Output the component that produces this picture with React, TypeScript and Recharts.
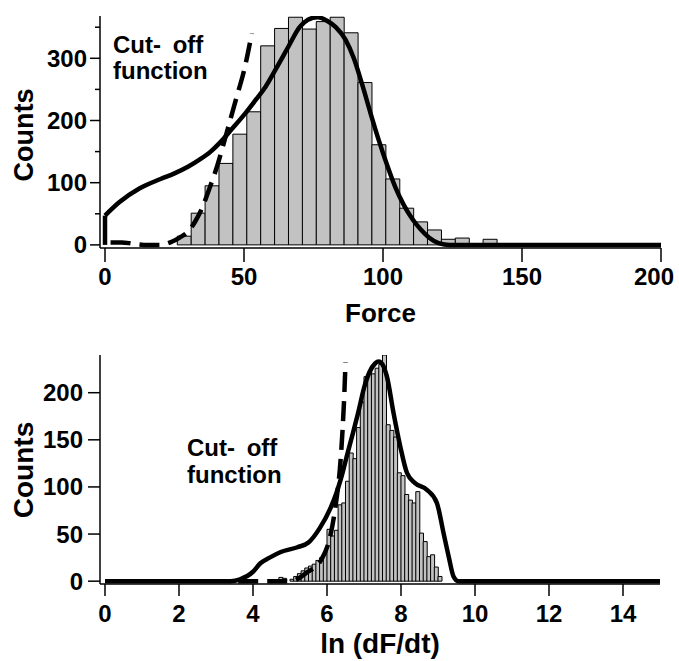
import { ComposedChart, Bar, Line, XAxis, YAxis, Label } from 'recharts'

const FONT = '"Liberation Sans", Arial, Helvetica, sans-serif'

// top panel: force histogram (bin centres, counts)
const forceBinCenters = [28.5, 33.5, 38.5, 43.5, 48.5, 53.5, 58.5, 63.5, 68.5, 73.5, 78.5, 83.5, 88.5, 93.5, 98.5, 103.5, 108.5, 113.5, 118.5, 123.5, 128.5, 133.5, 138.5]
const forceCounts = [14, 51, 95, 131, 178, 214, 320, 348, 366, 347, 359, 366, 341, 261, 161, 106, 59, 37, 24, 9, 11, 0, 9]

// fitted distribution (solid) and cut-off function (dashed)
const forceFitX = [0, 5, 12.5, 20, 25, 30, 34, 38, 41.7, 45, 50, 54, 57.7, 62, 66, 70, 73, 76.5, 80, 83, 86.5, 89.5, 92.5, 95.5, 98.5, 101.5, 104.5, 107.5, 110.5, 113.5, 116.5, 120, 124, 200]
const forceFitY = [47, 68, 91, 106, 115, 126, 137, 150, 166, 183, 209, 232, 254, 287, 319, 350, 362, 366, 360, 350, 330, 300, 258, 212, 168, 128, 92, 64, 42, 25, 12, 3, 0, 0]
const forceEdgeX = [0, 0]
const forceEdgeY = [0, 47]
const forceCutoffX = [2, 6, 10, 14, 20, 24, 27, 30, 32.5, 35, 37.5, 40, 42.5, 45, 47.5, 50, 52.8]
const forceCutoffY = [4, 4, 2, 0, 0, 5, 12, 22, 38, 60, 90, 122, 160, 200, 240, 280, 340]

const forceXTicks = [0, 50, 100, 150, 200]
const forceYTicks = [0, 50, 100, 150, 200, 250, 300, 350]

// bottom panel: ln(dF/dt) histogram
const rateBinCenters = [4.75, 4.85, 4.95, 5.05, 5.15, 5.25, 5.35, 5.45, 5.55, 5.65, 5.75, 5.85, 5.95, 6.05, 6.15, 6.25, 6.35, 6.45, 6.55, 6.65, 6.75, 6.85, 6.95, 7.05, 7.15, 7.25, 7.35, 7.45, 7.55, 7.65, 7.75, 7.85, 7.95, 8.05, 8.15, 8.25, 8.35, 8.45, 8.55, 8.65, 8.75, 8.85, 8.95, 9.05]
const rateCounts = [4, 3, 0, 2, 5, 8, 11, 14, 16, 18, 22, 25, 29, 55, 48, 54, 81, 83, 106, 136, 130, 163, 190, 217, 222, 220, 226, 230, 240, 166, 160, 153, 115, 112, 92, 86, 83, 95, 51, 42, 26, 28, 15, 5]

const rateFitX = [0, 3.4, 3.65, 4.0, 4.2, 4.45, 4.75, 5.2, 5.5, 5.8, 6.1, 6.25, 6.4, 6.55, 6.7, 6.85, 7.0, 7.15, 7.3, 7.4, 7.5, 7.62, 7.8, 7.98, 8.16, 8.38, 8.7, 8.97, 9.15, 9.29, 9.42, 9.55, 15]
const rateFitY = [0, 0, 2, 10, 19, 25, 31, 36, 41, 56, 78, 93, 112, 135, 157, 180, 205, 222, 231, 233, 230, 217, 178, 143, 115, 104, 97, 83, 51, 26, 5, 0, 0]
const rateCutoffX = [3.6, 5.0, 5.45, 5.85, 6.1, 6.25, 6.35, 6.42, 6.47, 6.5]
const rateCutoffY = [0, 0, 9, 23, 50, 85, 120, 160, 200, 232]

const rateXTicks = [0, 2, 4, 6, 8, 10, 12, 14]
const rateYTicks = [0, 50, 100, 150, 200]

const toPoints = (xs: number[], ys: number[]) => xs.map((x, i) => ({ x, y: ys[i] }))
const toBins = (xs: number[], ys: number[]) => xs.map((x, i) => ({ x, count: ys[i] }))

const forceBins = toBins(forceBinCenters, forceCounts)
const rateBins = toBins(rateBinCenters, rateCounts)

const tickStyle = { fontFamily: FONT, fontWeight: 'bold' as const, fontSize: 24, fill: '#000' }
const axisStroke = { stroke: '#000', strokeWidth: 1.5 }

function ForceCountTick(props: any) {
  const { x, y, payload } = props
  const major = payload.value % 100 === 0
  return (
    <g>
      <line x1={x + (major ? 3 : 8)} x2={x + 13} y1={y} y2={y} stroke="#000" strokeWidth={1.5} />
      {major && (
        <text x={x} y={y} dy={8.5} textAnchor="end" {...tickStyle}>
          {payload.value}
        </text>
      )}
    </g>
  )
}

// last label sits a little left of its tick so it stays inside the frame
function ForceXTick(props: any) {
  const { x, y, payload } = props
  const last = payload.value === forceXTicks[forceXTicks.length - 1]
  return (
    <text x={x} y={y} dx={last ? -7 : 0} dy={17} textAnchor="middle" {...tickStyle}>
      {payload.value}
    </text>
  )
}

const textBase: React.CSSProperties = {
  position: 'absolute',
  fontFamily: FONT,
  fontWeight: 'bold',
  color: '#000',
  whiteSpace: 'nowrap',
}

export default function App() {
  return (
    <div style={{ position: 'absolute', left: 0, top: 0, width: 679, height: 661, background: '#fff' }}>
      <div style={{ position: 'absolute', left: 0, top: 0 }}>
        <ComposedChart width={679} height={330} data={forceBins} margin={{ top: 16, right: 18, bottom: 0, left: 0 }} barCategoryGap={0} barGap={0}>
          <XAxis
            type="number"
            dataKey="x"
            domain={[-1.8, 200]}
            allowDataOverflow
            ticks={forceXTicks}
            interval={0}
            height={82}
            tickSize={14}
            tickMargin={6}
            axisLine={axisStroke}
            tickLine={axisStroke}
            tick={<ForceXTick />}
          >
            <Label value="Force" position="insideBottom" offset={8} fontFamily={FONT} fontWeight="bold" fontSize={26} fill="#000" />
          </XAxis>
          <XAxis xAxisId="curve" type="number" dataKey="x" domain={[-1.8, 200]} allowDataOverflow hide />
          <YAxis
            type="number"
            domain={[-5, 368]}
            allowDataOverflow
            ticks={forceYTicks}
            interval={0}
            width={100}
            tickSize={10}
            tickMargin={3}
            axisLine={axisStroke}
            tickLine={false}
            tick={<ForceCountTick />}
          />
          <Bar dataKey="count" fill="#c2c2c2" stroke="#000" strokeWidth={1} isAnimationActive={false} />
          <Line xAxisId="curve" data={toPoints(forceEdgeX, forceEdgeY)} dataKey="y" type="linear" stroke="#000" strokeWidth={4.5} dot={false} activeDot={false} isAnimationActive={false} />
          <Line xAxisId="curve" data={toPoints(forceFitX, forceFitY)} dataKey="y" type="monotone" stroke="#000" strokeWidth={4.5} dot={false} activeDot={false} isAnimationActive={false} />
          <Line xAxisId="curve" data={toPoints(forceCutoffX, forceCutoffY)} dataKey="y" type="monotone" stroke="#000" strokeWidth={4.5} strokeDasharray="20 9" dot={false} activeDot={false} isAnimationActive={false} />
        </ComposedChart>
      </div>

      <div style={{ position: 'absolute', left: 0, top: 330 }}>
        <ComposedChart width={679} height={331} data={rateBins} margin={{ top: 25, right: 19, bottom: 0, left: 0 }} barCategoryGap={0} barGap={0}>
          <XAxis
            type="number"
            dataKey="x"
            domain={[-0.135, 15]}
            allowDataOverflow
            ticks={rateXTicks}
            interval={0}
            height={77}
            tickSize={12}
            tickMargin={9}
            axisLine={axisStroke}
            tickLine={axisStroke}
            tick={tickStyle}
          >
            <Label value="ln (dF/dt)" position="insideBottom" offset={8} fontFamily={FONT} fontWeight="bold" fontSize={28} fill="#000" />
          </XAxis>
          <XAxis xAxisId="curve" type="number" dataKey="x" domain={[-0.135, 15]} allowDataOverflow hide />
          <YAxis
            type="number"
            domain={[-3, 240]}
            allowDataOverflow
            ticks={rateYTicks}
            interval={0}
            width={100}
            tickSize={12}
            tickMargin={5}
            axisLine={axisStroke}
            tickLine={axisStroke}
            tick={tickStyle}
          />
          <Bar dataKey="count" fill="#c2c2c2" stroke="#000" strokeWidth={1} isAnimationActive={false} />
          <Line xAxisId="curve" data={toPoints(rateFitX, rateFitY)} dataKey="y" type="monotone" stroke="#000" strokeWidth={4.5} dot={false} activeDot={false} isAnimationActive={false} />
          <Line xAxisId="curve" data={toPoints(rateCutoffX, rateCutoffY)} dataKey="y" type="monotone" stroke="#000" strokeWidth={4.5} strokeDasharray="20 9" dot={false} activeDot={false} isAnimationActive={false} />
        </ComposedChart>
      </div>

      <div style={{ ...textBase, left: 24, top: 135, fontSize: 27, transform: 'translate(-50%, -50%) rotate(-90deg)' }}>Counts</div>
      <div style={{ ...textBase, left: 24, top: 470, fontSize: 28, transform: 'translate(-50%, -50%) rotate(-90deg)' }}>Counts</div>

      <div style={{ ...textBase, left: 113, top: 31.5, fontSize: 24, lineHeight: '26.7px', wordSpacing: 5 }}>
        Cut- off<br />function
      </div>
      <div style={{ ...textBase, left: 187, top: 435, fontSize: 24, lineHeight: '26.6px', wordSpacing: 5 }}>
        Cut- off<br />function
      </div>
    </div>
  )
}
